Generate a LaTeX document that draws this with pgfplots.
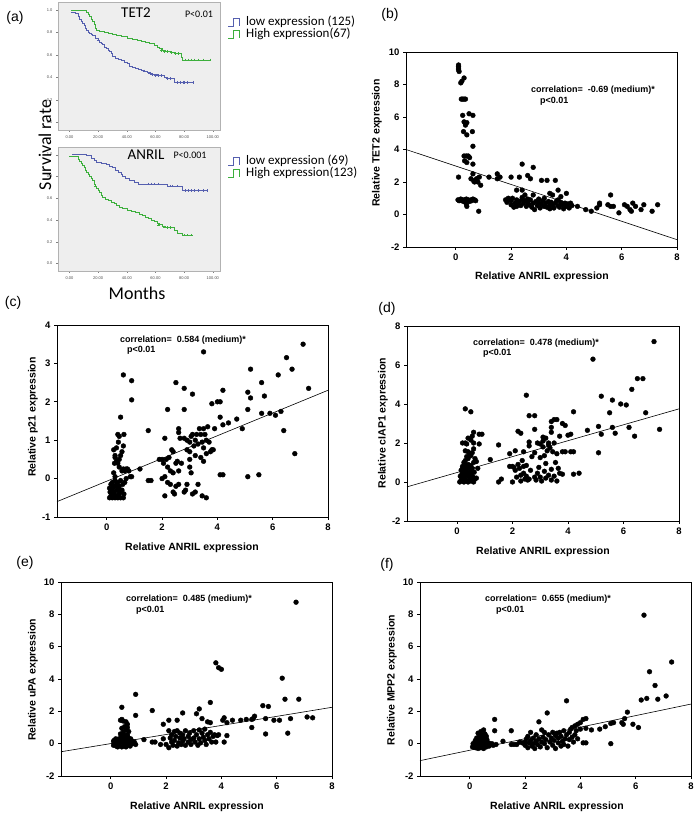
\documentclass[border=0pt]{standalone}
\usepackage{pgfplots}
\pgfplotsset{compat=1.18}
\usepackage{fontspec}
\setmainfont{Liberation Sans}
\newfontfamily\calib{Carlito}

\definecolor{kmblue}{RGB}{85,95,175}
\definecolor{kmgreen}{RGB}{60,175,60}
\definecolor{kmbg}{RGB}{238,238,238}

\pgfplotsset{
  sc/.style={scale only axis, clip=false, xmin=-1.8, xmax=8,
    xtick={0,2,4,6,8}, xticklabels={0,2,4,6,8},
    axis line style={line width=0.8pt},
    tick align=outside, xtick pos=bottom, ytick pos=left,
    major tick length=3pt, tick style={black, line width=0.7pt},
    tick label style={font=\bfseries\fontsize{9.5}{10}\selectfont}},
  km/.style={scale only axis, clip=false, xmin=-8, xmax=105, ymin=-0.07, ymax=1.07,
    xtick={0,20,40,60,80,100}, xticklabels={0.00,20.00,40.00,60.00,80.00,100.00},
    ytick={0,0.2,0.4,0.6,0.8,1}, yticklabels={0.0,0.2,0.4,0.6,0.8,1.0},
    axis background/.style={fill=kmbg}, axis line style={gray!60},
    tick align=outside, xtick pos=bottom, ytick pos=left,
    major tick length=2pt, tick style={gray},
    tick label style={font=\fontsize{4}{4}\selectfont, text=black!70}},
  dots/.style={only marks, mark=*, mark size=2.4pt, black},
  fit/.style={black, line width=0.6pt, no marks},
  cens/.style={only marks, mark=+, mark size=1.3pt, line width=0.4pt}
}

\begin{document}
\begin{tikzpicture}[x=1pt,y=1pt]
\path[use as bounding box] (0,0) rectangle (699,816);

% ---------------- (a) survival curves
\begin{axis}[km, at={(58pt,686pt)}, anchor=south west, width=162pt, height=128pt]
\addplot[kmblue, const plot, line width=0.6pt] coordinates {
(1,0.98) (4,0.97) (6,0.94) (7,0.92) (8,0.90) (9,0.88) (10,0.86) (11,0.84) (12,0.82) (13,0.80)
(14,0.79) (15,0.78) (16,0.77) (18,0.75) (20,0.73) (21,0.71) (22,0.70) (23,0.69) (24,0.67) (26,0.66)
(27,0.64) (28,0.63) (29,0.61) (30,0.59) (32,0.57) (34,0.56) (36,0.55) (38,0.53) (40,0.52) (42,0.50)
(44,0.49) (46,0.48) (48,0.47) (50,0.465) (52,0.455) (54,0.445) (56,0.435) (58,0.425) (62,0.415)
(66,0.40) (68,0.39) (72,0.39) (73,0.355) (86,0.355)};
\addplot[kmgreen, const plot, line width=0.6pt] coordinates {
(1,1.0) (11,1.0) (12,0.98) (13,0.96) (14,0.94) (15,0.92) (16,0.90) (17,0.87) (18,0.84) (19,0.82)
(21,0.81) (24,0.80) (27,0.79) (30,0.78) (33,0.77) (36,0.76) (40,0.75) (44,0.74) (47,0.73) (50,0.72)
(53,0.71) (56,0.70) (59,0.685) (61,0.67) (63,0.655) (65,0.64) (67,0.63) (70,0.62) (73,0.61) (77,0.61)
(78,0.58) (79,0.555) (98,0.555)};
\addplot[cens, kmblue] coordinates {(20,0.73) (52,0.455) (56,0.435) (58,0.425) (60,0.415) (62,0.415)
(64,0.415) (68,0.39) (70,0.39) (75,0.355) (77,0.355) (79,0.355) (80,0.355) (82,0.355) (86,0.355)};
\addplot[cens, kmgreen] coordinates {(64,0.64) (66,0.63) (68,0.63) (71,0.62) (74,0.61) (76,0.61)
(81,0.555) (83,0.555) (85,0.555) (87,0.555) (90,0.555) (93,0.555) (98,0.555)};
\end{axis}

\begin{axis}[km, at={(58pt,545pt)}, anchor=south west, width=162pt, height=124pt]
\addplot[kmblue, const plot, line width=0.6pt] coordinates {
(2,1.0) (10,1.0) (12,0.99) (15,0.97) (17,0.95) (19,0.93) (22,0.92) (26,0.91) (28,0.89) (30,0.88)
(32,0.86) (34,0.84) (36,0.82) (37,0.80) (39,0.78) (42,0.76) (45,0.745) (48,0.73) (66,0.73) (68,0.71)
(77,0.71) (79,0.67) (96,0.67)};
\addplot[kmgreen, const plot, line width=0.6pt] coordinates {
(0,0.98) (5,0.98) (6,0.96) (7,0.94) (8,0.92) (9,0.90) (10,0.88) (11,0.86) (12,0.84) (13,0.82)
(14,0.80) (15,0.78) (16,0.76) (17,0.73) (18,0.71) (19,0.69) (20,0.67) (21,0.65) (22,0.63) (23,0.61)
(25,0.59) (27,0.58) (29,0.56) (31,0.55) (33,0.535) (35,0.52) (37,0.505) (40,0.49) (43,0.475) (46,0.465)
(49,0.45) (51,0.44) (53,0.425) (55,0.41) (57,0.40) (59,0.385) (61,0.37) (63,0.355) (65,0.345) (67,0.335)
(70,0.33) (72,0.33) (73,0.30) (75,0.28) (78,0.28) (79,0.26) (85,0.26)};
\addplot[cens, kmblue] coordinates {(55,0.73) (57,0.73) (59,0.73) (62,0.73) (70,0.71) (72,0.71) (75,0.71)
(81,0.67) (83,0.67) (85,0.67) (87,0.67) (90,0.67) (93,0.67) (96,0.67)};
\addplot[cens, kmgreen] coordinates {(18,0.71) (62,0.355) (66,0.335) (68,0.33) (70,0.33) (80,0.26) (82,0.26) (85,0.26)};
\end{axis}

\node[font=\fontsize{14}{14}\selectfont] at (15,798) {(a)};
\node[font=\calib\fontsize{15}{15}\selectfont] at (136,803) {TET2};
\node[font=\calib\fontsize{10}{10}\selectfont] at (199,802) {P<0.01};
\node[font=\calib\fontsize{15}{15}\selectfont] at (146,661) {ANRIL};
\node[font=\calib\fontsize{10}{10}\selectfont] at (190,661) {P<0.001};
\node[font=\calib\fontsize{18}{18}\selectfont, rotate=90] at (45,671) {Survival rate};
\node[font=\calib\fontsize{18}{18}\selectfont] at (137,523) {Months};

\tikzset{leg/.style={anchor=west, font=\calib\fontsize{13}{13}\selectfont, inner sep=0pt}}
\draw[kmblue, line width=0.7pt] (228,790) -- (233,790) -- (233,798) -- (239,798) -- (239,790);
\draw[kmgreen, line width=0.7pt] (228,778) -- (233,778) -- (233,786) -- (239,786) -- (239,778);
\node[leg] at (246,794) {low expression (125)};
\node[leg] at (246,782) {High expression(67)};
\draw[kmblue, line width=0.7pt] (228,651) -- (233,651) -- (233,659) -- (239,659) -- (239,651);
\draw[kmgreen, line width=0.7pt] (228,639) -- (233,639) -- (233,647) -- (239,647) -- (239,639);
\node[leg] at (246,655) {low expression (69)};
\node[leg] at (246,643) {High expression(123)};

% ---------------- (b) TET2
\begin{axis}[sc, at={(406pt,569pt)}, anchor=south west, width=271pt, height=195pt,
  ymin=-2, ymax=10, ytick={-2,0,2,4,6,8,10}, yticklabels={-2,0,2,4,6,8,10}]
\addplot[dots] table {
x y
0.10 9.20
0.10 9.10
0.10 9.00
0.10 8.90
0.12 8.80
0.30 8.40
0.22 8.20
0.18 8.10
0.20 7.10
0.25 7.10
0.30 7.10
0.35 7.10
0.25 6.10
0.48 6.20
0.62 6.10
0.30 5.70
0.35 5.60
0.40 5.65
0.35 5.50
0.28 5.10
0.60 5.10
0.40 4.90
0.62 4.20
0.30 3.60
0.38 3.60
0.45 3.60
0.50 3.50
0.32 3.30
0.40 3.20
0.62 3.10
0.10 2.30
0.62 2.50
0.70 2.10
0.75 2.20
0.80 2.00
0.85 2.30
0.68 2.00
0.90 1.80
1.20 2.30
1.50 2.50
1.50 2.20
1.60 2.30
0.55 2.20
0.65 2.05
0.08 0.90
0.12 0.85
0.15 0.90
0.18 0.95
0.22 0.85
0.25 0.90
0.28 0.80
0.32 0.90
0.35 0.85
0.38 0.95
0.42 0.85
0.45 0.90
0.50 0.80
0.55 0.90
0.58 0.85
0.62 0.95
0.68 0.90
0.72 0.85
0.40 0.50
0.38 0.65
0.83 0.20
1.80 0.90
1.85 0.75
1.90 1.00
2.00 0.60
2.00 0.85
2.05 1.00
2.10 0.45
2.15 0.70
2.20 0.90
2.25 0.60
2.30 0.80
2.35 0.55
2.40 0.95
2.45 0.70
2.50 0.85
2.55 0.50
2.60 0.75
2.65 0.60
2.70 0.90
2.75 0.45
2.80 0.70
2.85 0.30
2.90 0.80
2.95 0.55
3.00 0.75
3.05 0.40
3.10 0.65
3.15 0.85
3.20 0.50
3.25 0.70
3.30 0.45
3.35 0.80
3.40 0.55
3.45 0.75
3.50 0.60
3.55 0.40
3.60 0.70
3.65 0.85
3.70 0.55
3.75 0.45
3.80 0.75
3.85 0.60
3.90 0.35
3.95 0.70
4.00 0.50
4.05 0.65
4.10 0.40
4.15 0.70
4.20 0.55
2.20 0.50
2.60 0.95
3.00 0.95
3.40 0.35
3.70 0.90
2.00 2.30
2.30 2.30
2.40 3.10
2.80 2.90
2.60 2.40
2.70 2.20
3.10 2.10
3.30 2.10
3.60 2.10
2.20 1.50
2.40 1.50
2.50 1.20
2.80 1.20
3.40 1.30
3.50 1.20
3.70 1.50
4.00 1.30
3.80 1.10
2.40 1.05
3.20 1.00
4.40 0.50
4.70 0.30
4.90 0.20
5.10 0.40
5.20 0.60
5.20 0.70
5.50 0.60
5.60 1.20
5.60 0.50
5.70 0.50
5.90 0.10
6.10 0.60
6.20 0.50
6.30 0.30
6.35 0.20
6.40 0.70
6.50 0.50
6.70 0.30
6.80 0.60
7.10 0.20
7.30 0.60
};
\addplot[fit] coordinates {(-1.8,4.0) (8,-1.55)};
\end{axis}

% ---------------- (c) p21
\begin{axis}[sc, at={(57pt,299pt)}, anchor=south west, width=271pt, height=192pt,
  ymin=-1, ymax=4, ytick={-1,0,1,2,3,4}, yticklabels={-1,0,1,2,3,4}]
\addplot[dots] table {
x y
0.10 -0.50
0.15 -0.45
0.20 -0.50
0.25 -0.40
0.30 -0.50
0.35 -0.45
0.40 -0.50
0.45 -0.40
0.50 -0.50
0.60 -0.50
0.12 -0.35
0.18 -0.30
0.22 -0.25
0.28 -0.35
0.32 -0.20
0.38 -0.30
0.42 -0.25
0.48 -0.35
0.55 -0.30
0.62 -0.40
0.15 -0.15
0.20 -0.10
0.25 -0.20
0.30 -0.05
0.35 -0.15
0.40 -0.10
0.45 -0.20
0.50 -0.05
0.58 -0.15
0.65 -0.10
0.10 -0.25
0.25 0.15
0.30 0.05
0.40 0.40
0.35 0.45
0.45 0.50
0.30 0.55
0.25 0.75
0.35 0.80
0.40 1.15
0.45 1.10
0.55 0.70
0.60 0.85
0.62 1.15
0.50 0.60
0.55 0.20
0.60 0.25
0.65 0.20
0.70 0.00
0.75 0.25
0.80 0.20
0.85 0.05
0.90 0.05
0.70 0.25
0.42 0.95
0.28 0.40
0.30 0.60
0.45 0.30
1.20 0.25
1.50 -0.05
1.60 -0.05
1.90 0.50
2.00 0.50
2.05 0.40
2.10 0.05
2.10 1.05
2.10 -0.45
2.15 0.50
2.20 -0.10
2.20 0.30
2.25 0.55
2.30 -0.15
2.30 0.20
2.35 0.75
2.40 0.15
2.40 -0.35
2.45 -0.40
2.50 0.40
2.50 -0.20
2.55 0.45
2.60 1.30
2.60 1.20
2.60 0.20
2.60 -0.15
2.65 1.05
2.70 0.40
2.80 1.05
2.80 -0.35
2.85 -0.30
2.90 1.00
2.90 0.75
2.90 -0.15
3.00 0.95
3.00 0.50
3.00 0.30
3.05 0.15
3.05 1.10
3.10 -0.40
3.10 1.15
3.15 0.85
3.20 -0.35
3.20 1.00
3.25 1.15
3.30 0.90
3.30 -0.15
3.35 1.30
3.40 1.15
3.40 0.55
3.45 0.95
3.45 -0.45
3.50 0.45
3.50 0.80
3.55 1.15
3.60 -0.50
3.60 0.65
3.60 1.00
3.65 1.35
3.70 0.95
3.75 0.70
3.80 0.75
3.85 0.75
3.90 1.30
3.50 1.30
3.20 0.60
2.40 0.70
2.00 0.00
3.00 0.70
3.50 3.30
7.10 3.50
6.50 3.15
6.70 2.85
5.20 2.85
6.20 2.70
0.60 2.70
0.90 2.55
2.50 2.50
5.60 2.50
2.80 2.35
7.30 2.35
4.20 2.30
3.10 2.20
5.10 2.25
5.70 2.15
5.20 2.10
0.90 2.05
4.00 2.00
4.10 2.00
3.80 1.95
2.20 1.80
2.80 1.80
5.10 1.80
6.30 1.75
5.60 1.70
5.90 1.70
6.10 1.65
4.10 1.60
0.50 1.60
4.70 1.55
4.40 1.45
4.20 1.40
1.50 1.25
4.90 1.30
6.40 1.25
6.80 0.65
5.10 0.05
5.50 0.10
4.10 0.10
4.20 0.10
};
\addplot[fit] coordinates {(-1.8,-0.6) (8,2.3)};
\end{axis}

% ---------------- (d) cIAP1
\begin{axis}[sc, at={(407pt,295pt)}, anchor=south west, width=272pt, height=195pt,
  ymin=-2, ymax=8, ytick={-2,0,2,4,6,8}, yticklabels={-2,0,2,4,6,8}]
\addplot[dots] table {
x y
0.10 0.00
0.15 0.10
0.20 0.05
0.25 0.00
0.30 0.15
0.35 0.05
0.40 0.00
0.45 0.10
0.50 0.05
0.55 0.20
0.60 0.00
0.65 0.15
0.12 0.30
0.18 0.40
0.22 0.25
0.28 0.50
0.32 0.35
0.38 0.45
0.42 0.30
0.48 0.55
0.52 0.40
0.58 0.25
0.62 0.50
0.15 0.60
0.20 0.70
0.25 0.55
0.30 0.80
0.35 0.65
0.40 0.90
0.45 0.75
0.50 0.85
0.55 0.70
0.60 1.00
0.30 1.10
0.35 1.30
0.40 1.20
0.45 1.45
0.50 1.35
0.25 1.00
0.30 1.60
0.40 1.55
0.55 1.50
0.60 1.70
0.20 2.00
0.30 2.00
0.35 1.95
0.40 2.25
0.50 2.15
0.55 2.35
0.60 2.00
0.65 1.20
0.70 0.20
0.75 0.70
0.80 1.95
0.70 1.05
0.30 3.75
0.50 3.60
0.60 2.55
0.80 2.45
0.90 2.45
0.20 0.80
1.20 1.15
1.50 1.90
1.50 0.00
1.60 0.15
1.90 1.45
1.90 0.80
2.00 0.00
2.00 0.80
2.05 0.75
2.10 1.60
2.10 0.60
2.15 0.25
2.20 2.60
2.20 0.90
2.25 0.70
2.30 2.50
2.30 0.05
2.30 0.35
2.35 1.10
2.40 1.55
2.40 0.45
2.40 0.80
2.45 0.15
2.50 0.85
2.50 0.30
2.55 0.10
2.60 2.05
2.60 1.85
2.60 0.15
2.65 0.60
2.70 1.30
2.80 2.70
2.80 1.50
2.80 0.25
2.85 0.10
2.90 2.00
2.90 0.45
2.95 0.75
3.00 1.25
3.00 0.25
3.05 0.05
3.10 2.30
3.10 2.10
3.10 1.80
3.15 0.55
3.15 1.35
3.20 2.25
3.20 0.95
3.20 0.20
3.25 1.60
3.30 2.00
3.30 0.35
3.35 1.75
3.40 0.65
3.40 0.10
3.45 1.55
3.50 0.30
3.50 2.00
3.55 1.00
3.60 1.45
3.60 0.05
3.65 0.70
3.70 2.35
3.70 0.45
3.80 0.40
3.80 1.55
3.90 1.55
4.00 2.40
4.10 1.55
4.10 2.45
4.20 1.55
4.20 0.40
4.40 0.45
3.40 2.55
3.30 1.90
3.00 1.95
7.10 7.20
4.90 6.30
6.50 5.30
6.70 5.30
6.30 4.75
2.50 4.45
5.20 4.40
5.60 4.20
5.90 4.00
6.10 3.95
4.20 3.60
6.80 3.55
5.50 3.55
2.60 3.40
2.80 3.40
3.50 3.20
3.60 3.20
3.40 3.10
5.10 2.85
5.60 2.80
6.20 2.80
7.30 2.70
4.70 2.65
3.90 2.90
3.80 3.00
5.70 2.50
5.20 2.45
6.40 2.35
5.10 1.50
3.40 2.80
};
\addplot[fit] coordinates {(-1.8,-0.25) (8,3.75)};
\end{axis}

% ---------------- (e) uPA
\begin{axis}[sc, at={(61pt,40pt)}, anchor=south west, width=271pt, height=194pt,
  ymin=-2, ymax=10, ytick={-2,0,2,4,6,8,10}, yticklabels={-2,0,2,4,6,8,10}]
\addplot[dots] table {
x y
0.10 -0.10
0.15 0.00
0.20 -0.15
0.25 0.10
0.30 -0.05
0.35 0.20
0.40 -0.20
0.45 0.05
0.50 -0.10
0.55 0.15
0.60 -0.05
0.65 0.10
0.70 -0.15
0.75 0.05
0.80 0.00
0.12 0.20
0.18 0.30
0.22 0.05
0.28 0.25
0.32 0.10
0.38 0.35
0.42 0.15
0.48 0.30
0.52 0.05
0.58 0.25
0.62 0.40
0.68 0.20
0.72 0.30
0.78 0.15
0.85 0.10
0.10 0.15
0.20 0.25
0.30 0.30
0.40 0.45
0.50 0.50
0.60 0.55
0.45 0.70
0.55 0.85
0.40 0.95
0.50 1.05
0.60 1.20
0.35 1.45
0.45 1.40
0.55 1.35
0.40 1.50
0.60 1.00
0.65 0.75
0.35 0.60
0.40 2.25
0.90 3.05
0.90 1.75
0.25 -0.20
0.55 -0.20
0.90 -0.05
1.20 0.25
1.50 2.05
1.50 0.10
1.60 0.10
1.80 -0.05
1.90 1.20
1.90 0.30
2.00 -0.05
2.10 1.45
2.10 0.80
2.10 -0.25
2.15 0.35
2.20 0.10
2.20 0.55
2.25 -0.10
2.30 0.75
2.30 0.20
2.35 0.45
2.40 1.45
2.40 -0.15
2.40 0.80
2.45 0.05
2.50 0.35
2.50 0.65
2.55 -0.05
2.60 1.90
2.60 0.55
2.60 0.15
2.65 0.30
2.70 0.80
2.70 -0.10
2.80 0.45
2.80 0.10
2.85 0.65
2.90 0.25
2.90 -0.05
3.00 0.80
3.00 0.35
3.05 0.10
3.10 1.85
3.10 0.55
3.15 -0.10
3.20 2.15
3.20 0.85
3.20 0.30
3.25 0.05
3.30 1.55
3.30 0.65
3.35 0.40
3.40 0.20
3.40 0.90
3.45 -0.05
3.50 1.35
3.50 0.55
3.55 0.30
3.60 2.55
3.60 1.30
3.60 0.70
3.65 0.10
3.70 0.45
3.75 0.55
3.80 0.10
3.85 0.50
3.90 0.55
6.70 8.75
3.80 5.00
3.90 4.70
4.00 4.60
6.20 4.05
6.30 2.75
6.80 2.75
5.50 2.35
5.70 2.30
7.10 1.65
7.30 1.60
5.60 1.55
6.50 1.55
5.90 1.45
6.10 1.45
5.20 1.70
5.10 1.50
4.90 1.50
4.70 1.45
4.40 1.45
4.10 1.60
4.20 1.30
5.10 1.00
5.60 0.60
6.40 0.65
4.10 0.10
4.20 0.50
4.05 1.45
5.15 1.55
};
\addplot[fit] coordinates {(-1.8,-0.5) (8,2.25)};
\end{axis}

% ---------------- (f) MPP2
\begin{axis}[sc, at={(420pt,40pt)}, anchor=south west, width=271pt, height=194pt,
  ymin=-2, ymax=10, ytick={-2,0,2,4,6,8,10}, yticklabels={-2,0,2,4,6,8,10}]
\addplot[dots] table {
x y
0.10 -0.20
0.15 -0.10
0.20 -0.25
0.25 -0.15
0.30 -0.30
0.35 -0.10
0.40 -0.25
0.45 -0.15
0.50 -0.30
0.55 -0.10
0.60 -0.20
0.65 -0.05
0.70 -0.15
0.12 0.00
0.18 0.05
0.22 -0.05
0.28 0.10
0.32 0.00
0.38 0.15
0.42 0.05
0.48 0.20
0.52 0.00
0.58 0.10
0.62 0.25
0.68 0.05
0.75 -0.05
0.80 0.00
0.85 -0.10
0.20 0.20
0.25 0.35
0.30 0.25
0.35 0.45
0.40 0.30
0.45 0.55
0.50 0.40
0.55 0.60
0.40 0.75
0.30 0.65
0.50 0.85
0.45 0.15
0.55 0.30
0.60 0.45
0.90 1.50
0.90 0.80
0.95 -0.05
1.20 0.15
1.50 0.80
1.50 -0.05
1.60 -0.05
1.70 -0.05
1.80 0.10
1.90 0.05
2.00 0.10
2.00 -0.10
2.05 0.30
2.10 -0.25
2.10 0.45
2.15 0.05
2.20 0.70
2.20 0.20
2.25 -0.15
2.30 0.35
2.30 0.00
2.35 -0.30
2.40 0.15
2.40 0.55
2.45 -0.05
2.50 1.35
2.50 0.30
2.55 -0.20
2.60 0.10
2.60 0.85
2.65 0.40
2.70 0.00
2.70 0.70
2.75 0.25
2.80 1.90
2.80 -0.25
2.85 0.55
2.90 0.10
2.95 0.35
3.00 0.70
3.00 -0.10
3.05 0.20
3.10 0.50
3.10 -0.30
3.15 0.65
3.20 0.05
3.20 0.35
3.25 0.70
3.30 -0.15
3.30 0.45
3.35 0.15
3.40 0.80
3.40 -0.05
3.45 0.30
3.50 2.65
3.50 0.55
3.55 -0.15
3.60 0.70
3.60 0.25
3.65 0.90
3.70 0.40
3.70 1.00
3.75 0.10
3.80 1.10
3.80 0.55
3.85 0.80
3.90 1.20
3.90 0.30
4.00 1.30
4.00 0.90
4.10 1.50
4.10 0.05
4.20 1.55
4.20 0.05
4.20 0.95
4.40 0.85
4.70 0.90
4.90 1.05
5.10 1.25
5.20 1.30
5.10 0.00
5.50 1.30
5.60 1.55
5.70 1.95
5.90 1.20
6.10 1.00
5.55 1.20
6.20 2.70
6.40 2.80
6.80 2.75
7.10 2.95
6.70 3.60
6.50 4.45
7.30 5.05
6.30 7.95
};
\addplot[fit] coordinates {(-1.8,-1.05) (8,2.45)};
\end{axis}

% ---------------- panel letters, axis labels and correlation notes
\node[font=\fontsize{14}{14}\selectfont] at (390,801) {(b)};
\node[font=\fontsize{14}{14}\selectfont] at (13,513) {(c)};
\node[font=\fontsize{14}{14}\selectfont] at (387,507) {(d)};
\node[font=\fontsize{14}{14}\selectfont] at (25,253) {(e)};
\node[font=\fontsize{14}{14}\selectfont] at (387,251) {(f)};

\tikzset{lab/.style={font=\bfseries\fontsize{10.5}{11}\selectfont}}
\node[lab, rotate=90] at (377,673) {Relative TET2 expression};
\node[lab, rotate=90] at (33,399) {Relative p21 expression};
\node[lab, rotate=90] at (383,393) {Relative cIAP1 expression};
\node[lab, rotate=90] at (33,136) {Relative uPA expression};
\node[lab, rotate=90] at (392,136) {Relative MPP2 expression};
\node[lab] at (542,539) {Relative ANRIL expression};
\node[lab] at (192,268) {Relative ANRIL expression};
\node[lab] at (543,264) {Relative ANRIL expression};
\node[lab] at (197,9) {Relative ANRIL expression};
\node[lab] at (557,9) {Relative ANRIL expression};

\tikzset{cor/.style={anchor=west, inner sep=0pt, font=\bfseries\fontsize{9}{9}\selectfont}}
\node[cor] at (531,726) {correlation=\ \ -0.69 (medium)*};
\node[cor] at (540,715) {p<0.01};
\node[cor] at (120,476) {correlation=\ \ 0.584 (medium)*};
\node[cor] at (127,466) {p<0.01};
\node[cor] at (473,473) {correlation=\ \ 0.478 (medium)*};
\node[cor] at (483,463) {p<0.01};
\node[cor] at (126,217) {correlation=\ \ 0.485 (medium)*};
\node[cor] at (136,206) {p<0.01};
\node[cor] at (485,217) {correlation=\ \ 0.655 (medium)*};
\node[cor] at (496,206) {p<0.01};
\end{tikzpicture}
\end{document}
